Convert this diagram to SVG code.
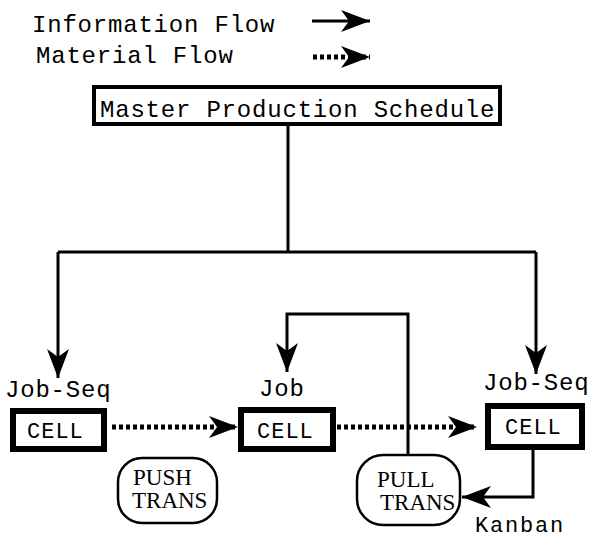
<svg xmlns="http://www.w3.org/2000/svg" width="589" height="538" viewBox="0 0 589 538">
<style>
.mono{font-family:"Liberation Mono","Courier New",monospace;font-size:24px;letter-spacing:0.8px;fill:#000}
.cl{font-family:"Liberation Mono","Courier New",monospace;font-size:22px;letter-spacing:1px;fill:#000}
.serif{font-family:"Liberation Serif","Times New Roman",serif;font-size:23px;fill:#000}
.ln{fill:none;stroke:#000;stroke-width:3}
.dot{fill:none;stroke:#000;stroke-width:5;stroke-dasharray:4 3}
.cell{fill:#fff;stroke:#000;stroke-width:6}
.trans{fill:#fff;stroke:#000;stroke-width:2.5}
</style>
<defs>
<marker id="ah" markerUnits="userSpaceOnUse" markerWidth="32" markerHeight="24" viewBox="-30 -12 32 24" refX="0" refY="0" orient="auto">
<path d="M0,0 L-29,-11 L-21,0 L-29,11 Z" fill="#000"/>
</marker>
</defs>
<rect width="589" height="538" fill="#fff"/>
<g id="legend">
<text class="mono" x="32" y="32">Information Flow</text>
<text class="mono" x="36" y="63">Material Flow</text>
<line class="ln" x1="312" y1="21" x2="370" y2="21" marker-end="url(#ah)"/>
<line class="dot" x1="313" y1="57" x2="370" y2="57" marker-end="url(#ah)"/>
</g>
<g id="connectors">
<polyline class="ln" points="288,126 288,252"/>
<polyline class="ln" points="58,252 536,252"/>
<polyline class="ln" points="58,252 58,378" marker-end="url(#ah)"/>
<polyline class="ln" points="536,252 536,374" marker-end="url(#ah)"/>
<polyline class="ln" points="408,456 408,314 287,314 287,372" marker-end="url(#ah)"/>
<polyline class="ln" points="533,450 533,497 462,497" marker-end="url(#ah)"/>
<line class="dot" x1="112" y1="427" x2="238" y2="427" marker-end="url(#ah)"/>
<line class="dot" x1="337" y1="427" x2="477" y2="427" marker-end="url(#ah)"/>
</g>
<g id="mps">
<rect x="94" y="87" width="406" height="37" fill="#fff" stroke="#000" stroke-width="4"/>
<text class="mono" x="100" y="117">Master Production Schedule</text>
</g>
<g id="cell1">
<text class="mono" x="5" y="397">Job-Seq</text>
<rect class="cell" x="13" y="411" width="91" height="38"/>
<text class="cl" x="27" y="438">CELL</text>
</g>
<g id="cell2">
<text class="mono" x="259" y="396">Job</text>
<rect class="cell" x="241" y="410" width="92" height="39"/>
<text class="cl" x="257" y="438">CELL</text>
</g>
<g id="cell3">
<text class="mono" x="483" y="390">Job-Seq</text>
<rect class="cell" x="488" y="406" width="94" height="41"/>
<text class="cl" x="505" y="434">CELL</text>
</g>
<g id="push">
<rect class="trans" x="118" y="458" width="99" height="65" rx="24"/>
<text class="serif" x="133" y="485">PUSH</text>
<text class="serif" x="132" y="508">TRANS</text>
</g>
<g id="pull">
<rect class="trans" x="357" y="455" width="103" height="70" rx="26"/>
<text class="serif" x="377" y="487">PULL</text>
<text class="serif" x="380" y="510">TRANS</text>
</g>
<text class="mono" x="475" y="532" style="font-size:22px;letter-spacing:1.8px">Kanban</text>
</svg>
